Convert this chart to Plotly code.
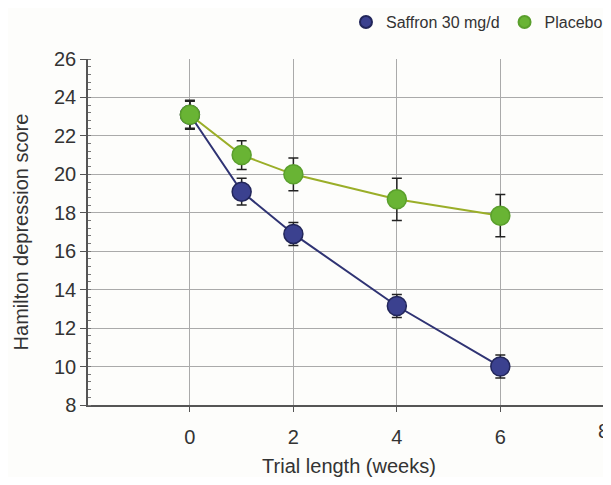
import plotly.graph_objects as go

weeks = [0, 1, 2, 4, 6]
saffron = [23.1, 19.1, 16.9, 13.15, 10.0]
saffron_err = [0.7, 0.7, 0.6, 0.6, 0.6]
placebo = [23.1, 21.0, 20.0, 18.7, 17.85]
placebo_err = [0.75, 0.75, 0.85, 1.1, 1.1]
x_ticks = [0, 2, 4, 6, 8]
y_ticks = [8, 10, 12, 14, 16, 18, 20, 22, 24, 26]
series_names = ["Saffron 30 mg/d", "Placebo"]

FONT = "Liberation Sans, Arial, sans-serif"
BLUE_FILL, BLUE_EDGE, BLUE_LINE = "#3b418f", "#22265a", "#2f3373"
GREEN_FILL, GREEN_EDGE, GREEN_LINE = "#69b434", "#5a9f2c", "#9aae28"

fig = go.Figure()
fig.add_trace(go.Scatter(
    x=weeks, y=saffron, name=series_names[0], mode="lines+markers", showlegend=False,
    line=dict(color=BLUE_LINE, width=2),
    marker=dict(size=19, color=BLUE_FILL, line=dict(color=BLUE_EDGE, width=1.5)),
    error_y=dict(type="data", array=saffron_err, color="#222222", thickness=1.5, width=5),
))
fig.add_trace(go.Scatter(
    x=weeks, y=placebo, name=series_names[1], mode="lines+markers", showlegend=False,
    line=dict(color=GREEN_LINE, width=2),
    marker=dict(size=19, color=GREEN_FILL, line=dict(color=GREEN_EDGE, width=1.5)),
    error_y=dict(type="data", array=placebo_err, color="#222222", thickness=1.5, width=5),
))
# legend-only entries (markers only)
for name, fill, edge in [(series_names[0], BLUE_FILL, BLUE_EDGE), (series_names[1], GREEN_FILL, GREEN_EDGE)]:
    fig.add_trace(go.Scatter(
        x=[None], y=[None], name=name, mode="markers",
        marker=dict(size=16, color=fill, line=dict(color=edge, width=1)),
    ))

# last x tick label drawn as an annotation so it is not clipped at the plot edge
tick_text = [str(v) for v in x_ticks[:-1]] + [""]
fig.add_annotation(
    x=x_ticks[-1], xref="x", y=0, yref="paper", yanchor="top",
    text=str(x_ticks[-1]), showarrow=False, yshift=-13,
    font=dict(size=20, family=FONT, color="#333333"),
)

fig.update_layout(
    width=603, height=469,
    margin=dict(l=80, r=1, t=51, b=72, autoexpand=False),
    paper_bgcolor="#fdfdfb", plot_bgcolor="#fdfdfb",
    font=dict(family=FONT, size=18, color="#333333"),
    showlegend=True,
    legend=dict(orientation="h", x=0.995, xanchor="right", xref="container",
                y=0.97, yanchor="middle", yref="container",
                font=dict(size=16, family=FONT), itemsizing="constant",
                bgcolor="rgba(0,0,0,0)", traceorder="normal", itemwidth=30),
)
fig.update_xaxes(
    range=[-1.97, 8.12], tickvals=x_ticks, ticktext=tick_text,
    showgrid=True, gridcolor="#aaaaaa", gridwidth=1,
    showline=True, linecolor="#555555", linewidth=1.5,
    ticks="outside", ticklen=5, tickcolor="#555555",
    ticklabeloverflow="allow", ticklabelstandoff=8,
    zeroline=False, automargin=False,
    title=dict(text="Trial length (weeks)", font=dict(size=20), standoff=16),
    tickfont=dict(size=20),
)
fig.update_yaxes(
    range=[8, 26], tickvals=y_ticks, ticktext=[str(v) for v in y_ticks],
    showgrid=True, gridcolor="#aaaaaa", gridwidth=1,
    showline=True, linecolor="#555555", linewidth=1.5,
    ticks="outside", ticklen=6, tickcolor="#555555",
    minor=dict(dtick=0.4, ticks="inside", ticklen=3, tickcolor="#777777", showgrid=False),
    zeroline=False, automargin=False,
    title=dict(text="Hamilton depression score", font=dict(size=20), standoff=20),
    tickfont=dict(size=20),
)

fig.write_html("out.html")
